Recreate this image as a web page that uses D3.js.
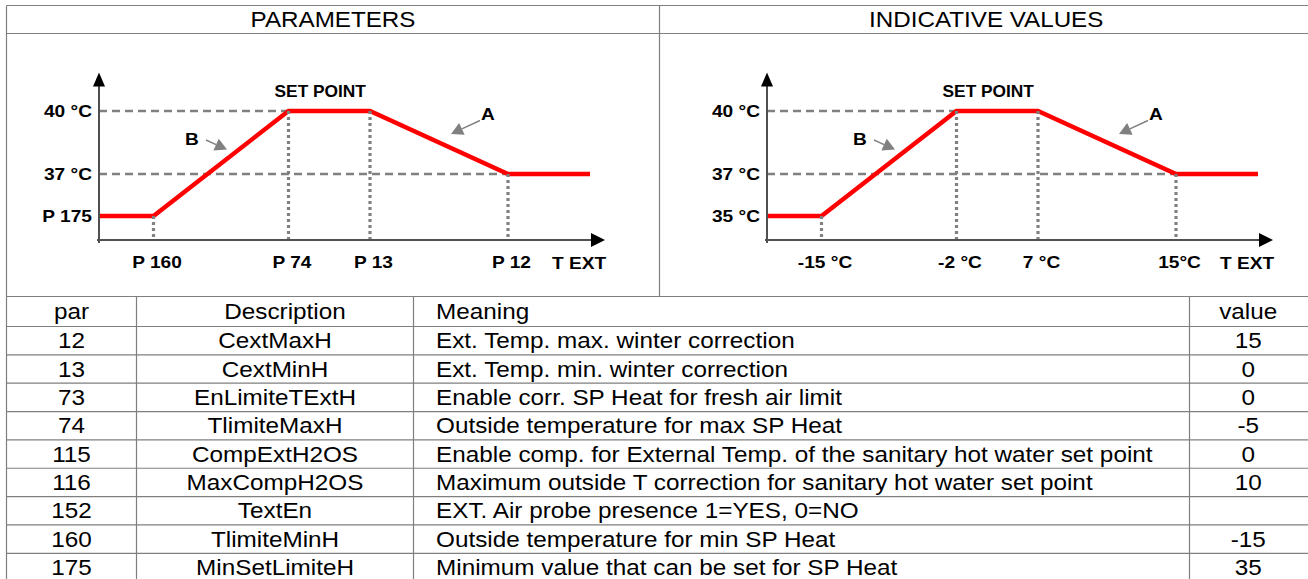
<!DOCTYPE html>
<html lang="en">
<head>
<meta charset="UTF-8">
<title>Set point correction</title>
<script src="https://d3js.org/d3.v7.min.js"></script>
<style>
  body { margin: 0; background: #fff; }
  svg { display: block; font-family: "Liberation Sans", Arial, sans-serif; }
  .grid { stroke: #7f7f7f; stroke-width: 1.2; fill: none; }
  .lbl { font-weight: bold; font-size: 16.5px; fill: #000; }
  .cell { font-size: 21.5px; fill: #000; }
</style>
</head>
<body>
<svg id="chart" width="1308" height="579"></svg>
<script>
// curve: outside temperature -> set point (schematic)
const curveT  = [-19, -15, -2, 7, 15, 21];
const curveSP = [35, 35, 40, 40, 37, 37];
const breakTemps = [-15, -2, 7, 15];
const yTicks = [35, 37, 40];

const paramYLabels = ["P 175", "37 °C", "40 °C"];
const paramXLabels = ["P 160", "P 74", "P 13", "P 12"];
const valueYLabels = ["35 °C", "37 °C", "40 °C"];
const valueXLabels = ["-15 °C", "-2 °C", "7 °C", "15°C"];

const panelTitles = ["PARAMETERS", "INDICATIVE VALUES"];

// parameter table
const tableHead = ["par", "Description", "Meaning", "value"];
const parCodes = ["12", "13", "73", "74", "115", "116", "152", "160", "175"];
const parNames = ["CextMaxH", "CextMinH", "EnLimiteTExtH", "TlimiteMaxH", "CompExtH2OS",
                  "MaxCompH2OS", "TextEn", "TlimiteMinH", "MinSetLimiteH"];
const parMeanings = [
  "Ext. Temp. max. winter correction",
  "Ext. Temp. min. winter correction",
  "Enable corr. SP Heat for fresh air limit",
  "Outside temperature for max SP Heat",
  "Enable comp. for External Temp. of the sanitary hot water set point",
  "Maximum outside T correction for sanitary hot water set point",
  "EXT. Air probe presence 1=YES, 0=NO",
  "Outside temperature for min SP Heat",
  "Minimum value that can be set for SP Heat"
];
const parValues = ["15", "0", "0", "-5", "0", "10", "", "-15", "35"];

const svg = d3.select("#chart");

// the source uses a slightly wider face than Arial, so text is stretched sideways
function wideText(parent, x, y, s, txt) {
  return parent.append("text")
    .attr("transform", `translate(${x},${y}) scale(${s},1)`)
    .text(txt);
}

// ---------- table frame ----------
const L = 6.5, R = 1313, T = 5.5, titleB = 33.5, chartB = 296.5, mid = 659.5;
const headH = 30, rowH = 28.35;
const colX = [L, 136.5, 413.5, 1189.5, R];

const grid = svg.append("g");
grid.append("line").attr("class", "grid").attr("x1", L).attr("x2", R).attr("y1", T).attr("y2", T);
grid.append("line").attr("class", "grid").attr("x1", L).attr("x2", R).attr("y1", titleB).attr("y2", titleB);
grid.append("line").attr("class", "grid").attr("x1", mid).attr("x2", mid).attr("y1", T).attr("y2", chartB);

const nRows = parCodes.length;
const rowTops = d3.range(nRows + 2).map(i => i === 0 ? chartB : chartB + headH + (i - 1) * rowH);
grid.selectAll("line.h").data(rowTops).join("line")
  .attr("class", "grid h")
  .attr("x1", L).attr("x2", R)
  .attr("y1", d => d).attr("y2", d => d);
grid.selectAll("line.v").data(colX).join("line")
  .attr("class", "grid v")
  .attr("x1", d => d).attr("x2", d => d)
  .attr("y1", (d, i) => (i === 0 || i === 4) ? T : chartB)
  .attr("y2", 600);

panelTitles.forEach((d, i) => {
  wideText(svg, i === 0 ? (L + mid) / 2 : (mid + R) / 2, 27.3, 1.1, d)
    .attr("text-anchor", "middle").attr("font-size", 22);
});

// table cells
const rows = [tableHead].concat(parCodes.map((c, i) => [c, parNames[i], parMeanings[i], parValues[i]]));
rows.forEach((r, ri) => {
  const top = ri === 0 ? chartB : chartB + headH + (ri - 1) * rowH;
  const h = ri === 0 ? headH : rowH;
  const base = top + h / 2 + 7.7;
  r.forEach((txt, ci) => {
    let x, anchor = "middle";
    if (ci === 2) { x = colX[2] + 22.5; anchor = "start"; }
    else if (ci === 3) x = (colX[3] + 1307) / 2;
    else x = (colX[ci] + colX[ci + 1]) / 2;
    if (ri === 0 && ci === 1) x += 10; // header sits a bit right of centre
    wideText(svg, x, base, 1.13, txt).attr("class", "cell").attr("text-anchor", anchor);
  });
});

// ---------- charts ----------
const axisY = 240, axisTopY = 72.5, axisLen = 506, lblStretch = 1.16;

function drawChart(originX, yLabels, xLabels) {
  const g = svg.append("g").attr("transform", `translate(${originX},0)`);

  const x = d3.scaleLinear().domain(curveT).range([0, 54.5, 189.5, 271, 409, 491]);
  const y = d3.scaleLinear().domain([35, 40]).range([216, 111]);

  // dashed guides to the first break holding that set point
  const guides = yTicks.slice(1).map(v => ({ v, t: breakTemps.find((b, i) => curveSP[i + 1] === v) }));
  g.selectAll("line.dash").data(guides).join("line")
    .attr("x1", 0).attr("x2", d => x(d.t))
    .attr("y1", d => y(d.v)).attr("y2", d => y(d.v))
    .attr("stroke", "#808080").attr("stroke-width", 2.6)
    .attr("stroke-dasharray", "8,5");

  // set point curve
  const pts = curveT.map((t, i) => [t, curveSP[i]]);
  g.append("path")
    .datum(pts)
    .attr("d", d3.line().x(d => x(d[0])).y(d => y(d[1])))
    .attr("fill", "none").attr("stroke", "#ff0000").attr("stroke-width", 4.4)
    .attr("stroke-linejoin", "miter");

  // dotted drops
  g.selectAll("line.dot").data(breakTemps).join("line")
    .attr("x1", d => x(d)).attr("x2", d => x(d))
    .attr("y1", (d, i) => y(curveSP[i + 1])).attr("y2", axisY)
    .attr("stroke", "#808080").attr("stroke-width", 3.2)
    .attr("stroke-dasharray", "3,3");

  // axes lines
  g.append("line").attr("x1", 0).attr("x2", 0).attr("y1", axisTopY + 12).attr("y2", axisY + 3)
    .attr("stroke", "#505050").attr("stroke-width", 2);
  g.append("line").attr("x1", -2).attr("x2", axisLen - 12).attr("y1", axisY).attr("y2", axisY)
    .attr("stroke", "#505050").attr("stroke-width", 2);
  g.append("path").attr("d", `M0,${axisTopY}L6,${axisTopY + 14}L-6,${axisTopY + 14}Z`).attr("fill", "#000");
  g.append("path").attr("d", `M${axisLen},${axisY}L${axisLen - 14},${axisY - 7}L${axisLen - 14},${axisY + 7}Z`).attr("fill", "#000");

  // tick labels
  const ya = g.append("g").call(d3.axisLeft(y).tickValues(yTicks).tickSize(0).tickPadding(7)
    .tickFormat((d, i) => yLabels[i]));
  ya.select(".domain").remove();
  ya.selectAll("text").attr("class", "lbl").attr("font-family", null).attr("font-size", null)
    .attr("x", -7 / lblStretch).attr("transform", `scale(${lblStretch},1)`);

  const xa = g.append("g").attr("transform", `translate(3,${axisY})`)
    .call(d3.axisBottom(x).tickValues(breakTemps).tickSize(0).tickPadding(16)
    .tickFormat((d, i) => xLabels[i]));
  xa.select(".domain").remove();
  xa.selectAll("text").attr("class", "lbl").attr("font-family", null).attr("font-size", null)
    .attr("transform", `scale(${lblStretch},1)`);

  wideText(g, axisLen - 26, 269, lblStretch, "T EXT").attr("class", "lbl").attr("text-anchor", "middle");
  wideText(g, (x(-2) + x(7)) / 2 - 9, 96.5, 1.05, "SET POINT").attr("class", "lbl").attr("text-anchor", "middle");

  // annotations
  const notes = [
    { k: "B", lx: 93, ly: 145, from: [107, 140], to: [128, 149.5] },
    { k: "A", lx: 389, ly: 120, from: [381, 120.5], to: [352, 134] }
  ];
  notes.forEach(n => {
    wideText(g, n.lx, n.ly, lblStretch, n.k).attr("class", "lbl").attr("text-anchor", "middle");
    const dx = n.to[0] - n.from[0], dy = n.to[1] - n.from[1];
    const len = Math.hypot(dx, dy), ux = dx / len, uy = dy / len;
    const bx = n.to[0] - ux * 12, by = n.to[1] - uy * 12;
    g.append("line").attr("x1", n.from[0]).attr("y1", n.from[1]).attr("x2", bx).attr("y2", by)
      .attr("stroke", "#808080").attr("stroke-width", 1.4);
    g.append("path")
      .attr("d", `M${n.to[0]},${n.to[1]}L${bx - uy * 6.5},${by + ux * 6.5}L${bx + uy * 6.5},${by - ux * 6.5}Z`)
      .attr("fill", "#808080");
  });
}

drawChart(99, paramYLabels, paramXLabels);
drawChart(767, valueYLabels, valueXLabels);
</script>
</body>
</html>
